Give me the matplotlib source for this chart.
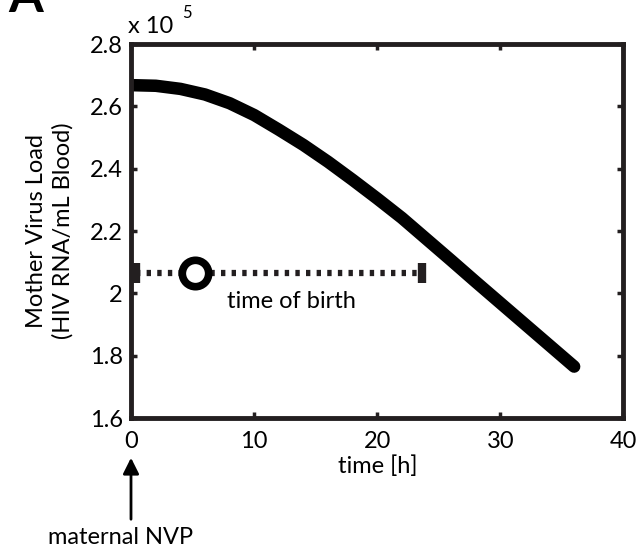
import matplotlib
matplotlib.use("Agg")
import matplotlib.pyplot as plt

plt.rcParams['font.family'] = ['Lato', 'DejaVu Sans']

# data (values in units of 1e5 HIV RNA/mL)
time_h = [0, 2, 4, 6, 8, 10, 12, 14, 16, 18, 20, 22, 24, 26, 28, 30, 32, 34, 36]
virus_load = [2.668, 2.666, 2.656, 2.638, 2.610, 2.572, 2.525, 2.476, 2.422, 2.364,
              2.304, 2.242, 2.174, 2.106, 2.037, 1.969, 1.901, 1.833, 1.765]
birth_window = [0.4, 23.6]
birth_time = 5.2
birth_level = 2.065
xticks = [0, 10, 20, 30, 40]
yticks = [1.6, 1.8, 2.0, 2.2, 2.4, 2.6, 2.8]
ytick_labels = ['1.6', '1.8', '2', '2.2', '2.4', '2.6', '2.8']

ink = '#231f20'
FS = 17
fig = plt.figure(figsize=(6.4, 5.46), dpi=100)
ax = fig.add_axes([0.205, 0.2344, 0.769, 0.685])

ax.plot(time_h, virus_load, color='black', lw=9, solid_capstyle='round', solid_joinstyle='round')

# time-of-birth interval
ln, = ax.plot(birth_window, [birth_level, birth_level], color=ink, lw=4.5, dash_capstyle='butt')
ln.set_dashes((0.7, 1.0))
ax.plot(birth_window, [birth_level, birth_level], ls='none', marker='|', ms=14, mew=6, color=ink)
ax.plot([birth_time], [birth_level], marker='o', ms=19, mew=5.5, mfc='white', mec='black')
ax.text(13.0, 1.973, 'time of birth', ha='center', va='center', fontsize=FS)

ax.set_xlim(0, 40)
ax.set_ylim(1.6, 2.8)
ax.set_xticks(xticks)
ax.set_yticks(yticks)
ax.set_yticklabels(ytick_labels)
ax.tick_params(direction='in', length=4, width=2.5, colors=ink, labelsize=FS,
               labelcolor='black', top=True, right=True)
ax.tick_params(axis='y', pad=6)
ax.tick_params(axis='x', pad=9)
for s in ax.spines.values():
    s.set_linewidth(3.5)
    s.set_color(ink)

ax.set_xlabel('time [h]', fontsize=FS, labelpad=3)
ax.set_ylabel('Mother Virus Load\n(HIV RNA/mL Blood)', fontsize=FS, linespacing=1.25)
ax.yaxis.set_label_coords(-0.118, 0.5)

fig.text(0.200, 0.932, 'x 10', fontsize=FS, ha='left', va='bottom')
fig.text(0.284, 0.962, '5', fontsize=12, ha='left', va='bottom')
fig.text(0.013, 1 - 12/546, 'A', fontsize=36, fontweight='bold', ha='left', va='baseline')

# maternal NVP arrow
ax.annotate('', xy=(131/640, 1-455/546), xytext=(131/640, 1-522/546),
            xycoords='figure fraction', textcoords='figure fraction',
            arrowprops=dict(arrowstyle='-|>', color='black', lw=2, mutation_scale=24))
fig.text(121/640, 1-537/546, 'maternal NVP', fontsize=FS, ha='center', va='center')

fig.savefig('out.png', dpi=100)
